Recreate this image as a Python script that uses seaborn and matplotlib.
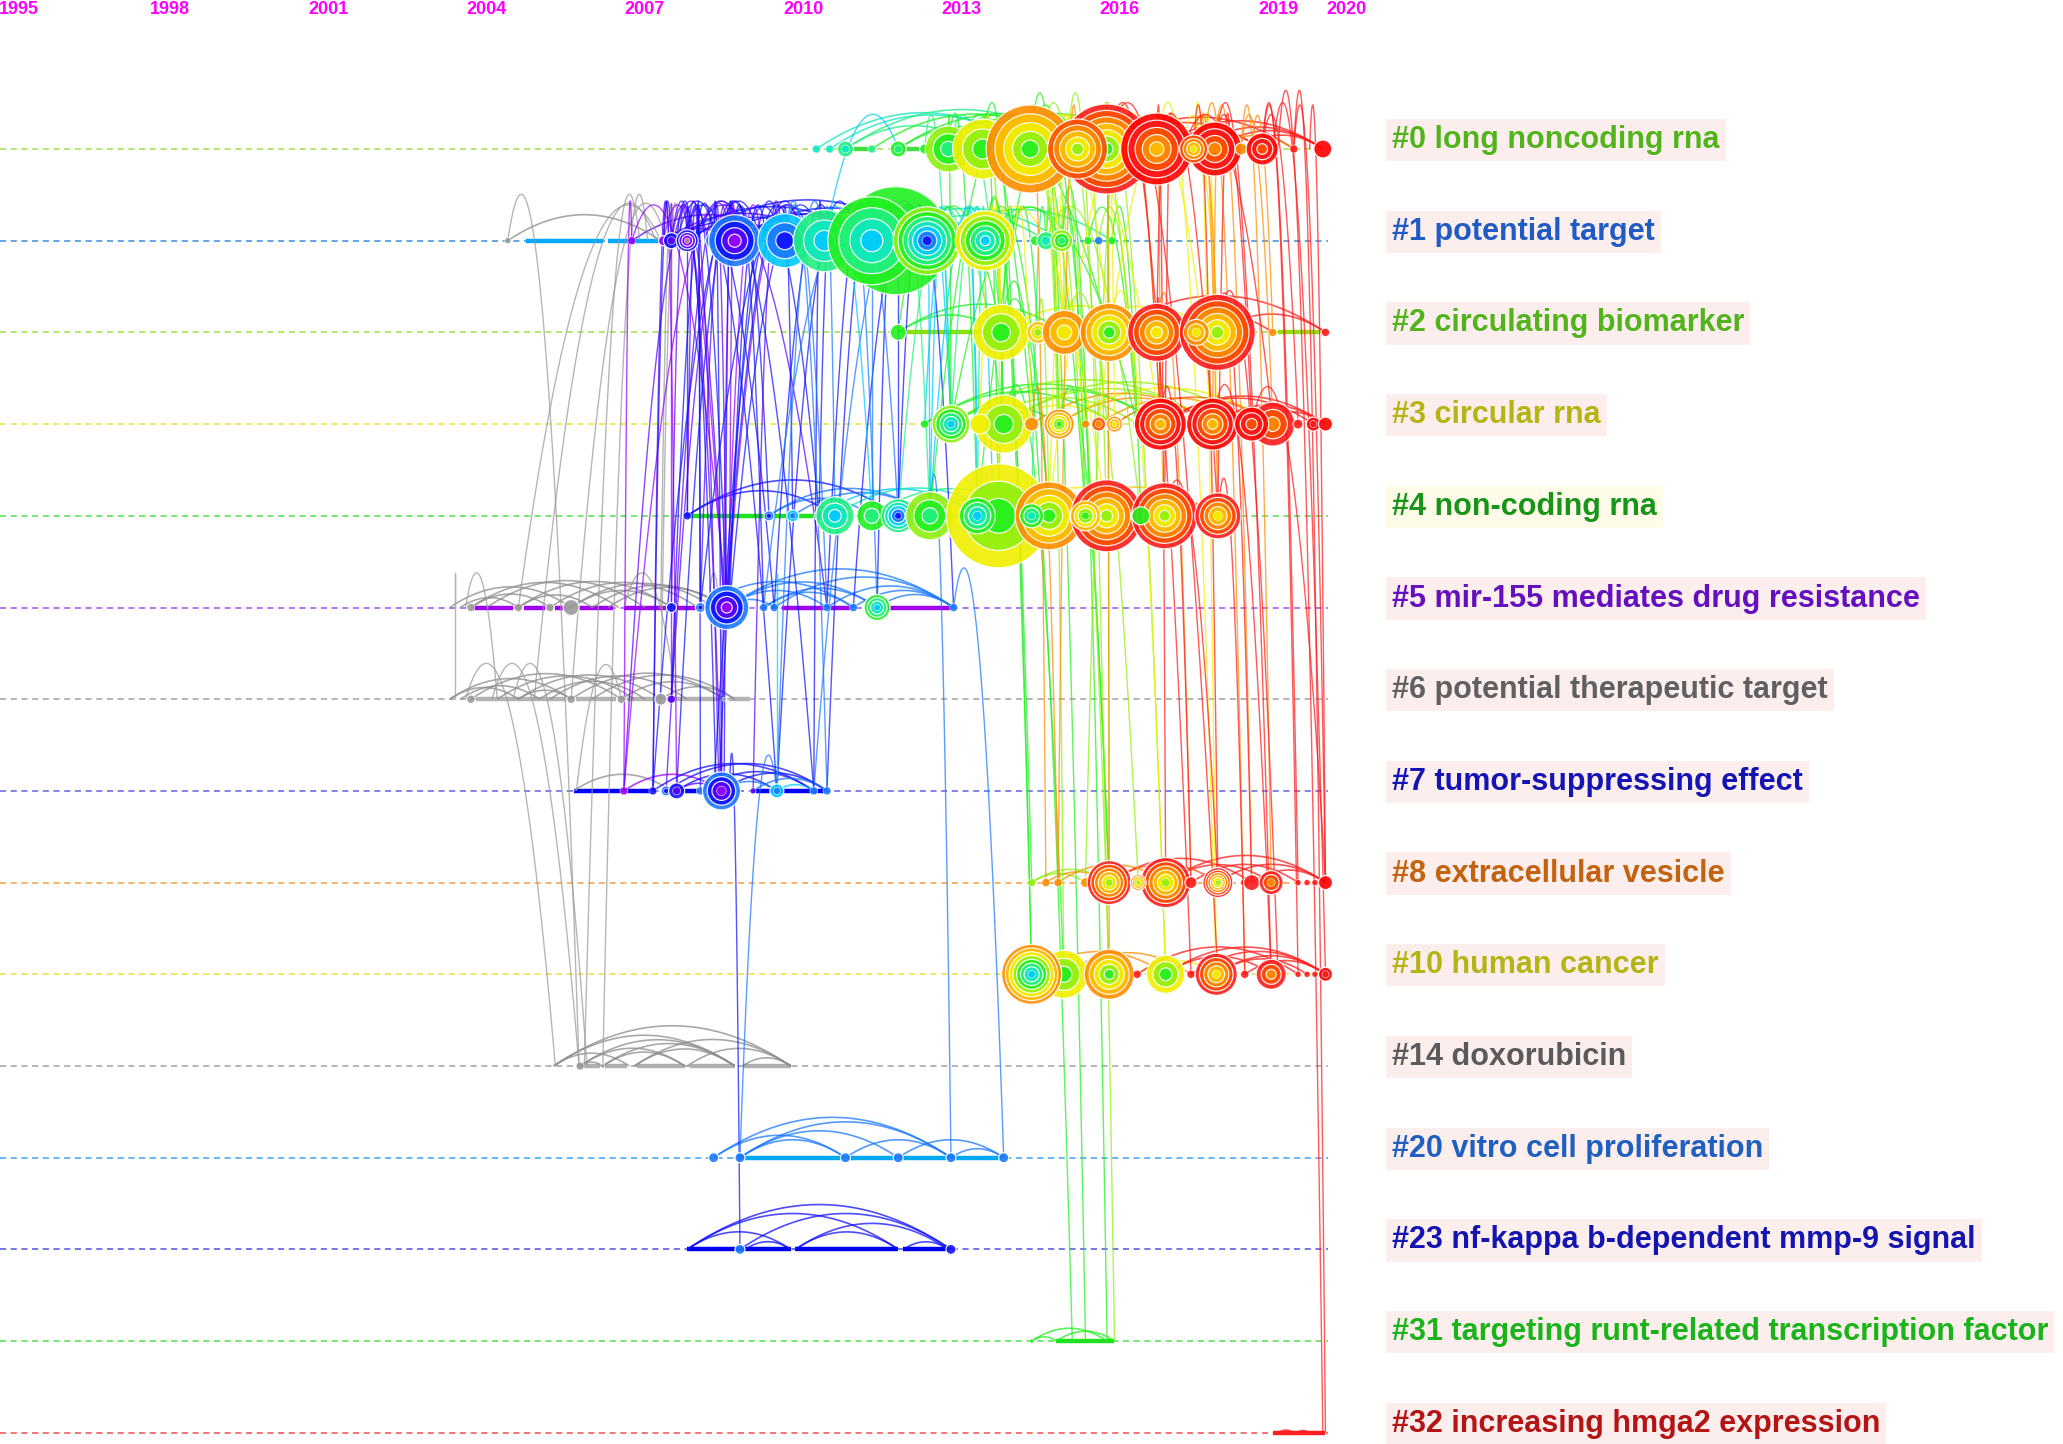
import numpy as np
import pandas as pd
import matplotlib
matplotlib.use("Agg")
import matplotlib.pyplot as plt
from matplotlib.collections import LineCollection
import seaborn as sns

# ---------------- data ----------------
cluster_labels = ["#0 long noncoding rna", "#1 potential target", "#2 circulating biomarker",
                  "#3 circular rna", "#4 non-coding rna", "#5 mir-155 mediates drug resistance",
                  "#6 potential therapeutic target", "#7 tumor-suppressing effect",
                  "#8 extracellular vesicle", "#10 human cancer", "#14 doxorubicin",
                  "#20 vitro cell proliferation", "#23 nf-kappa b-dependent mmp-9 signal",
                  "#31 targeting runt-related transcription factor", "#32 increasing hmga2 expression"]
axis_years = [1995, 1998, 2001, 2004, 2007, 2010, 2013, 2016, 2019, 2020]

# colour of each citation year (2005 = grey, outside coloured slices)
tone_years = list(range(2005, 2021))
tone_colors = ["#9a9a9a", "#9a00ff", "#5a00ff", "#1010ff", "#1a78ff", "#00c8ff", "#10e8c0",
               "#20f080", "#20f020", "#90f010", "#f0f000", "#ffc000", "#ff8c00", "#ff5000",
               "#ff1a1a", "#ff0000"]

# nodes per cluster: (year, radius px, first citing year, last citing year)
nodes_c0 = [(2010.25, 4, 2011, 2011), (2010.5, 4, 2011, 2011), (2010.8, 8, 2011, 2012),
            (2011.3, 4, 2012, 2012), (2011.8, 8, 2012, 2013), (2012.3, 5, 2013, 2013),
            (2012.75, 23, 2012, 2014), (2013.4, 30, 2013, 2015), (2014.3, 44, 2013, 2017),
            (2015.75, 45, 2013, 2019), (2015.2, 30, 2014, 2018), (2016.7, 36, 2016, 2020),
            (2017.8, 27, 2017, 2020), (2017.4, 14, 2015, 2018), (2018.3, 6, 2017, 2017),
            (2018.7, 16, 2018, 2020), (2019.3, 4, 2019, 2019), (2019.85, 9, 2020, 2020)]
nodes_c1 = [(2004.4, 3, 2005, 2005), (2006.75, 4, 2006, 2006), (2007.35, 5, 2006, 2006),
            (2007.5, 8, 2007, 2008), (2007.8, 11, 2005, 2008), (2008.3, 8, 2008, 2009),
            (2008.7, 26, 2006, 2009), (2009.65, 27, 2008, 2010), (2010.4, 31, 2010, 2012),
            (2011.75, 54, 2012, 2013), (2011.3, 44, 2010, 2013), (2012.35, 34, 2008, 2014),
            (2013.45, 30, 2010, 2015), (2014.4, 5, 2013, 2013), (2014.6, 9, 2011, 2012),
            (2014.9, 11, 2012, 2014), (2015.4, 4, 2013, 2013), (2015.6, 4, 2009, 2009),
            (2015.85, 4, 2013, 2013)]
nodes_c2 = [(2011.8, 8, 2013, 2013), (2013.75, 28, 2013, 2015), (2014.45, 11, 2014, 2016),
            (2014.95, 22, 2015, 2017), (2015.8, 29, 2013, 2017), (2016.7, 29, 2015, 2019),
            (2017.85, 38, 2014, 2019), (2017.45, 13, 2015, 2017), (2018.9, 4, 2017, 2017),
            (2019.9, 4, 2019, 2019)]
nodes_c3 = [(2012.3, 4, 2013, 2013), (2012.8, 19, 2010, 2014), (2013.8, 29, 2013, 2015),
            (2013.35, 10, 2015, 2015), (2014.33, 7, 2017, 2017), (2014.85, 15, 2013, 2017),
            (2015.35, 4, 2017, 2017), (2015.6, 7, 2017, 2018), (2015.9, 8, 2015, 2017),
            (2016.33, 5, 2014, 2014), (2016.77, 26, 2016, 2020), (2017.76, 26, 2016, 2020),
            (2018.9, 22, 2017, 2019), (2018.5, 17, 2018, 2020), (2019.38, 5, 2019, 2019),
            (2019.67, 7, 2019, 2020), (2019.9, 7, 2020, 2020)]
nodes_c4 = [(2007.8, 4, 2008, 2008), (2009.35, 5, 2008, 2009), (2009.8, 6, 2009, 2010),
            (2010.3, 5, 2009, 2009), (2010.6, 19, 2010, 2012), (2011.3, 15, 2012, 2013),
            (2011.8, 17, 2008, 2012), (2012.4, 24, 2012, 2014), (2013.7, 52, 2013, 2015),
            (2013.3, 18, 2010, 2013), (2014.66, 34, 2013, 2017), (2014.33, 12, 2011, 2013),
            (2015.75, 36, 2014, 2019), (2015.35, 15, 2013, 2016), (2016.85, 33, 2014, 2019),
            (2016.4, 9, 2013, 2013), (2017.86, 23, 2015, 2019)]
nodes_c5 = [(2003.7, 4, 2005, 2005), (2004.6, 4, 2005, 2005), (2005.2, 4, 2005, 2005),
            (2005.6, 8, 2005, 2005), (2007.5, 5, 2008, 2008), (2008.05, 5, 2008, 2009),
            (2008.55, 22, 2006, 2009), (2009.25, 4, 2009, 2009), (2009.45, 4, 2009, 2009),
            (2010.45, 4, 2009, 2009), (2010.95, 4, 2009, 2009), (2011.4, 13, 2010, 2013),
            (2012.85, 4, 2009, 2009)]
nodes_c6 = [(2003.7, 4, 2005, 2005), (2005.6, 4, 2005, 2005), (2006.55, 4, 2005, 2005),
            (2007.3, 6, 2005, 2005), (2007.5, 4, 2007, 2007), (2008.5, 2, 2005, 2005)]
nodes_c7 = [(2006.6, 4, 2006, 2006), (2007.15, 4, 2008, 2008), (2007.4, 5, 2008, 2009),
            (2007.6, 8, 2007, 2008), (2008.05, 4, 2009, 2009), (2008.45, 19, 2006, 2009),
            (2009.05, 3, 2007, 2007), (2009.5, 7, 2009, 2010), (2010.2, 4, 2009, 2009),
            (2010.45, 4, 2009, 2009)]
nodes_c8 = [(2014.33, 4, 2014, 2014), (2014.6, 4, 2017, 2017), (2014.83, 4, 2017, 2017),
            (2015.35, 5, 2017, 2017), (2015.8, 22, 2014, 2019), (2016.87, 25, 2014, 2019),
            (2016.35, 8, 2014, 2017), (2017.35, 6, 2019, 2019), (2017.86, 15, 2014, 2019),
            (2018.37, 4, 2019, 2019), (2018.5, 8, 2019, 2019), (2018.87, 12, 2017, 2019),
            (2019.38, 3, 2019, 2019), (2019.55, 3, 2019, 2019), (2019.7, 3, 2019, 2019),
            (2019.9, 7, 2020, 2020)]
nodes_c10 = [(2014.94, 24, 2013, 2015), (2014.33, 30, 2010, 2017), (2015.8, 25, 2013, 2017),
             (2016.33, 4, 2019, 2019), (2016.87, 19, 2013, 2015), (2017.35, 4, 2019, 2019),
             (2017.83, 21, 2015, 2019), (2018.37, 4, 2019, 2019), (2018.87, 15, 2017, 2019),
             (2019.38, 3, 2019, 2019), (2019.55, 3, 2019, 2019), (2019.7, 3, 2019, 2019),
             (2019.9, 7, 2019, 2020)]
nodes_c14 = [(2005.77, 4, 2005, 2005), (2006.2, 2, 2005, 2005)]
nodes_c20 = [(2008.3, 5, 2009, 2009), (2008.8, 5, 2009, 2009), (2010.8, 5, 2009, 2009),
             (2011.8, 5, 2009, 2009), (2012.8, 5, 2009, 2009), (2013.8, 5, 2009, 2009)]
nodes_c23 = [(2008.8, 5, 2009, 2009), (2012.8, 5, 2008, 2008)]
nodes_c31 = [(2014.33, 2, 2013, 2013)]
nodes_c32 = []

# arcs inside a cluster: (from year, to year, citing year)
arcs_c0 = [(2010.25, 2014.3, 2011), (2010.5, 2014.3, 2011), (2010.8, 2015.2, 2012),
           (2010.8, 2013.4, 2012), (2011.3, 2015.2, 2013), (2011.8, 2014.3, 2013),
           (2011.8, 2015.75, 2013), (2012.3, 2015.75, 2013), (2012.3, 2014.3, 2013),
           (2012.75, 2016.7, 2013), (2013.4, 2015.75, 2015), (2013.4, 2016.7, 2015),
           (2014.3, 2016.7, 2016), (2015.75, 2019.3, 2019), (2016.7, 2019.85, 2019),
           (2016.7, 2018.7, 2019), (2017.4, 2019.85, 2019), (2017.8, 2019.85, 2019),
           (2015.75, 2018.7, 2019), (2017.8, 2019.3, 2017), (2018.3, 2019.85, 2019),
           (2016.7, 2017.8, 2018)]
arcs_c1 = [(2004.4, 2007.3, 2005), (2006.75, 2009.65, 2007), (2007.35, 2010.4, 2007),
           (2007.5, 2011.3, 2008), (2007.5, 2009.65, 2008), (2007.8, 2012.35, 2008),
           (2007.8, 2010.4, 2008), (2008.3, 2011.3, 2008), (2008.7, 2012.35, 2008),
           (2008.7, 2010.4, 2009), (2007.35, 2008.7, 2007), (2009.65, 2013.45, 2009),
           (2009.65, 2011.75, 2009), (2010.4, 2013.45, 2010), (2011.3, 2014.9, 2011),
           (2012.35, 2015.85, 2012), (2011.75, 2014.6, 2012), (2008.7, 2011.75, 2008)]
arcs_c2 = [(2011.8, 2013.75, 2013), (2011.8, 2014.95, 2013), (2013.75, 2016.7, 2015),
           (2014.95, 2017.85, 2015), (2015.8, 2017.85, 2016), (2016.7, 2018.9, 2019),
           (2017.85, 2019.9, 2019), (2015.8, 2019.9, 2019)]
arcs_c3 = [(2012.3, 2016.77, 2013), (2012.8, 2016.77, 2013), (2012.8, 2017.76, 2014),
           (2013.8, 2017.76, 2014), (2013.8, 2018.5, 2014), (2012.3, 2015.9, 2013),
           (2013.35, 2016.33, 2014), (2014.85, 2018.9, 2015), (2014.33, 2017.76, 2017),
           (2014.85, 2017.76, 2017), (2015.6, 2018.5, 2017), (2015.9, 2018.9, 2018),
           (2016.77, 2019.67, 2019), (2016.77, 2018.5, 2019), (2017.76, 2019.9, 2019),
           (2018.5, 2019.9, 2019), (2012.8, 2014.85, 2013), (2013.8, 2015.9, 2015),
           (2016.77, 2019.9, 2019), (2017.76, 2019.38, 2018)]
arcs_c4 = [(2007.8, 2011.8, 2008), (2007.8, 2010.6, 2008), (2009.35, 2012.4, 2009),
           (2009.8, 2012.4, 2009), (2010.3, 2013.3, 2010), (2009.35, 2011.3, 2009),
           (2010.6, 2013.7, 2011), (2011.3, 2014.33, 2012), (2011.8, 2013.7, 2012),
           (2012.4, 2014.66, 2013), (2013.7, 2016.85, 2015), (2014.66, 2016.85, 2017),
           (2014.66, 2017.86, 2016), (2015.75, 2017.86, 2018)]
arcs_c5 = [(2003.3, 2005.6, 2005), (2003.7, 2006.5, 2005), (2004.0, 2007.0, 2005),
           (2004.6, 2007.5, 2005), (2005.2, 2008.0, 2005), (2005.6, 2008.3, 2005),
           (2006.0, 2008.5, 2005), (2003.7, 2005.2, 2005), (2004.6, 2006.0, 2005),
           (2005.6, 2007.5, 2005), (2003.5, 2004.6, 2005), (2006.3, 2008.55, 2005),
           (2008.55, 2011.4, 2009), (2008.55, 2012.85, 2009), (2009.25, 2011.4, 2009),
           (2009.45, 2012.85, 2009), (2010.45, 2012.85, 2009), (2010.95, 2012.85, 2009),
           (2008.55, 2010.45, 2009), (2009.25, 2010.95, 2009), (2011.4, 2012.85, 2009),
           (2008.05, 2010.95, 2009), (2008.55, 2009.45, 2009)]
arcs_c6 = [(2003.3, 2005.6, 2005), (2003.7, 2006.55, 2005), (2004.2, 2006.8, 2005),
           (2004.6, 2007.3, 2005), (2005.2, 2007.8, 2005), (2005.6, 2008.5, 2005),
           (2006.0, 2008.7, 2005), (2006.55, 2008.5, 2005), (2003.3, 2004.6, 2005),
           (2004.6, 2005.6, 2005), (2007.3, 2008.7, 2005), (2003.5, 2005.0, 2005),
           (2005.0, 2007.0, 2005)]
arcs_c7 = [(2005.65, 2007.5, 2005), (2006.6, 2008.45, 2006), (2007.15, 2010.2, 2008),
           (2007.4, 2010.45, 2008), (2007.6, 2009.5, 2008), (2008.45, 2010.45, 2008),
           (2008.05, 2010.2, 2008), (2008.45, 2009.5, 2009), (2009.05, 2010.45, 2009),
           (2009.5, 2010.2, 2010), (2007.6, 2008.45, 2007)]
arcs_c8 = [(2014.33, 2015.35, 2014), (2014.6, 2015.8, 2017), (2014.83, 2016.87, 2017),
           (2015.8, 2018.5, 2019), (2016.87, 2019.9, 2019), (2016.87, 2018.87, 2019),
           (2017.86, 2019.9, 2019), (2017.35, 2019.38, 2019), (2018.5, 2019.9, 2019),
           (2015.8, 2017.86, 2018), (2014.33, 2015.8, 2014)]
arcs_c10 = [(2014.94, 2017.35, 2017), (2014.33, 2016.87, 2017), (2016.33, 2017.83, 2015),
            (2016.87, 2019.9, 2019), (2017.35, 2019.9, 2019), (2017.83, 2019.9, 2019),
            (2016.33, 2019.38, 2019), (2018.37, 2019.9, 2019), (2016.87, 2018.87, 2019),
            (2017.83, 2019.55, 2019)]
arcs_c14 = [(2005.27, 2006.7, 2005), (2005.77, 2007.75, 2005), (2006.2, 2008.7, 2005),
            (2006.8, 2008.7, 2005), (2007.8, 2009.76, 2005), (2008.85, 2009.76, 2005),
            (2005.27, 2009.76, 2005), (2005.77, 2008.7, 2005), (2006.2, 2007.75, 2005),
            (2005.27, 2008.7, 2005), (2006.8, 2009.76, 2005), (2005.77, 2006.2, 2005)]
arcs_c20 = [(2008.3, 2010.8, 2009), (2008.8, 2011.8, 2009), (2008.3, 2012.8, 2009),
            (2008.8, 2012.8, 2009), (2010.8, 2012.8, 2009), (2011.8, 2013.8, 2009),
            (2012.8, 2013.8, 2009), (2008.8, 2010.8, 2009)]
arcs_c23 = [(2007.8, 2009.76, 2008), (2007.8, 2012.8, 2008), (2008.8, 2012.8, 2008),
            (2008.9, 2009.76, 2008), (2009.85, 2011.8, 2008), (2009.85, 2012.75, 2008),
            (2011.9, 2012.75, 2008), (2007.8, 2011.8, 2008)]
arcs_c31 = [(2014.33, 2015.76, 2013), (2014.8, 2015.9, 2013), (2014.33, 2014.8, 2013)]
arcs_c32 = [(2019.0, 2019.3, 2019), (2019.35, 2019.6, 2019)]

# solid timeline stretches inside a cluster: (from year, to year)
seg_c0 = [(2010.9, 2011.25), (2011.9, 2012.2)]
seg_c1 = [(2004.75, 2006.2), (2006.3, 2007.3)]
seg_c2 = [(2011.9, 2013.6), (2019.0, 2019.8)]
seg_c3 = []
seg_c4 = [(2007.85, 2009.3), (2009.4, 2009.75), (2009.85, 2010.25)]
seg_c5 = [(2003.75, 2004.5), (2004.7, 2005.1), (2005.3, 2005.5), (2005.75, 2006.4),
          (2006.6, 2007.4), (2007.6, 2008.0), (2009.6, 2010.4), (2010.5, 2010.9),
          (2011.6, 2012.8)]
seg_c6 = [(2003.8, 2005.5), (2005.7, 2006.45), (2006.65, 2007.2), (2007.4, 2008.4),
          (2008.6, 2009.0)]
seg_c7 = [(2005.65, 2006.55), (2006.65, 2007.1), (2007.7, 2008.0), (2009.1, 2009.45),
          (2009.55, 2010.4)]
seg_c8 = []
seg_c10 = []
seg_c14 = [(2005.85, 2006.15), (2006.25, 2006.65), (2006.85, 2007.75), (2007.85, 2008.7),
           (2008.85, 2009.76)]
seg_c20 = [(2008.85, 2010.75), (2010.85, 2011.75), (2011.85, 2012.75), (2012.85, 2013.75)]
seg_c23 = [(2007.8, 2009.76), (2009.85, 2011.8), (2011.9, 2012.75)]
seg_c31 = [(2014.8, 2015.9)]
seg_c32 = [(2018.9, 2019.9)]

# links between clusters: (lane a, year a, lane b, year b), grouped by citing year
links_gray = [(1, 2004.4, 10, 2005.75), (1, 2006.9, 10, 2005.85), (1, 2007.05, 10, 2006.2),
              (1, 2007.2, 6, 2004.9), (1, 2007.3, 5, 2004.6), (1, 2007.4, 6, 2005.6),
              (1, 2007.55, 5, 2007.3), (1, 2007.65, 6, 2007.3), (5, 2003.4, 6, 2003.4),
              (5, 2003.6, 6, 2004.2), (6, 2003.6, 10, 2005.3), (6, 2004.1, 10, 2005.75),
              (6, 2004.5, 10, 2005.9), (6, 2006.55, 7, 2005.7), (5, 2006.6, 6, 2007.6),
              (5, 2008.2, 6, 2008.5)]
links_purple = [(1, 2006.75, 5, 2008.55), (1, 2006.75, 7, 2006.6), (1, 2007.35, 7, 2007.6),
                (1, 2007.35, 5, 2008.5), (1, 2008.7, 7, 2008.45), (1, 2008.7, 5, 2008.6),
                (1, 2007.5, 6, 2007.5), (1, 2009.2, 5, 2008.55), (1, 2010.0, 5, 2008.55),
                (1, 2008.9, 7, 2006.6)]
links_violet = [(1, 2007.5, 5, 2008.5), (1, 2007.8, 7, 2008.4), (1, 2008.3, 5, 2008.55),
                (1, 2008.65, 5, 2008.05), (1, 2007.8, 5, 2007.5), (1, 2009.6, 7, 2009.05),
                (1, 2008.65, 6, 2007.5), (1, 2007.45, 7, 2007.15), (1, 2008.0, 4, 2007.8),
                (1, 2009.0, 7, 2007.4), (1, 2007.5, 7, 2008.45), (1, 2008.2, 7, 2006.6),
                (1, 2007.9, 5, 2010.45)]
links_blue = [(1, 2007.5, 7, 2007.15), (1, 2007.6, 7, 2008.35), (1, 2007.8, 4, 2007.8),
              (1, 2007.8, 5, 2008.55), (1, 2008.0, 7, 2008.05), (1, 2008.3, 7, 2008.45),
              (1, 2008.65, 4, 2009.35), (1, 2008.65, 7, 2008.5), (1, 2008.65, 5, 2009.25),
              (1, 2009.0, 7, 2007.6), (1, 2009.3, 5, 2008.6), (1, 2009.6, 7, 2008.4),
              (1, 2009.6, 4, 2009.8), (1, 2009.8, 5, 2008.5), (1, 2010.0, 7, 2008.3),
              (1, 2010.35, 5, 2008.6), (1, 2010.35, 7, 2010.2), (1, 2010.6, 4, 2010.3),
              (1, 2010.6, 5, 2009.45), (1, 2011.0, 7, 2009.5), (1, 2011.3, 5, 2010.45),
              (1, 2011.8, 4, 2011.8), (1, 2011.8, 5, 2011.4), (1, 2012.3, 5, 2010.95),
              (1, 2012.35, 4, 2011.8), (7, 2008.6, 12, 2008.8), (1, 2008.3, 6, 2007.5),
              (1, 2011.5, 7, 2010.45), (1, 2012.0, 5, 2012.85), (1, 2008.0, 5, 2008.05),
              (1, 2007.6, 7, 2009.5), (1, 2008.0, 7, 2010.2), (1, 2009.2, 7, 2007.15),
              (1, 2007.7, 5, 2009.45), (1, 2010.2, 5, 2008.05), (1, 2008.9, 4, 2010.3)]
links_azure = [(1, 2009.65, 5, 2010.45), (1, 2009.65, 7, 2010.45), (1, 2010.4, 4, 2010.6),
               (1, 2010.4, 7, 2009.5), (1, 2011.3, 4, 2011.3), (1, 2010.8, 5, 2011.4),
               (5, 2012.85, 11, 2013.8), (4, 2012.4, 11, 2012.8), (7, 2009.5, 11, 2008.8),
               (1, 2012.35, 7, 2010.2), (1, 2010.9, 4, 2011.8), (1, 2011.5, 5, 2009.25)]
links_cyan = [(1, 2012.35, 4, 2012.4), (1, 2012.5, 3, 2012.8), (1, 2012.7, 4, 2012.4),
              (1, 2012.9, 3, 2012.3), (1, 2013.1, 4, 2013.3), (1, 2012.3, 3, 2012.8),
              (1, 2013.4, 4, 2012.4), (0, 2011.8, 1, 2010.4), (1, 2010.4, 4, 2011.3),
              (1, 2013.0, 3, 2013.3), (1, 2013.2, 4, 2013.6), (7, 2009.5, 5, 2009.5)]
links_spring = [(1, 2013.45, 4, 2013.3), (1, 2013.45, 3, 2012.8), (0, 2012.75, 2, 2013.75),
                (1, 2012.35, 3, 2013.8), (1, 2014.6, 4, 2014.33), (1, 2011.8, 4, 2012.4),
                (0, 2012.3, 3, 2012.8), (1, 2013.0, 4, 2011.8)]
links_green = [(0, 2012.75, 3, 2012.8), (0, 2012.75, 4, 2013.3), (0, 2013.4, 3, 2013.8),
               (0, 2013.4, 4, 2013.7), (1, 2012.35, 2, 2013.75), (1, 2013.45, 3, 2013.8),
               (1, 2013.45, 4, 2014.66), (1, 2014.0, 2, 2014.45), (1, 2014.6, 3, 2014.85),
               (1, 2014.9, 4, 2015.35), (0, 2013.4, 9, 2014.33), (1, 2013.45, 9, 2014.33),
               (0, 2014.3, 13, 2015.35), (1, 2014.9, 13, 2015.76), (2, 2013.75, 13, 2015.1),
               (3, 2014.85, 8, 2015.8), (0, 2014.3, 8, 2015.8), (3, 2013.8, 9, 2014.94),
               (2, 2013.75, 4, 2014.66), (1, 2013.45, 8, 2014.33), (1, 2014.0, 4, 2013.7),
               (0, 2013.0, 3, 2014.33), (1, 2012.8, 2, 2011.8), (0, 2014.0, 4, 2015.35),
               (1, 2015.4, 3, 2016.33), (1, 2015.85, 4, 2016.4), (0, 2014.3, 4, 2012.4),
               (1, 2013.45, 3, 2016.33), (0, 2012.75, 2, 2015.8), (1, 2014.9, 3, 2012.8),
               (0, 2015.2, 4, 2013.3)]
links_lime = [(0, 2014.3, 3, 2014.85), (0, 2014.3, 4, 2015.35), (0, 2015.2, 3, 2016.33),
              (0, 2015.2, 4, 2015.75), (0, 2015.75, 2, 2015.8), (0, 2015.75, 8, 2015.8),
              (0, 2014.5, 9, 2015.8), (1, 2014.6, 4, 2016.4), (2, 2014.95, 8, 2016.35),
              (1, 2015.6, 3, 2016.33), (0, 2013.8, 2, 2014.95), (0, 2015.0, 13, 2015.9),
              (0, 2015.5, 9, 2016.87), (2, 2014.45, 4, 2014.66), (0, 2014.8, 3, 2015.6),
              (1, 2014.9, 2, 2014.95), (0, 2016.2, 8, 2015.35), (1, 2014.6, 9, 2014.94)]
links_yellow = [(0, 2013.4, 2, 2013.75), (0, 2013.6, 3, 2015.35), (0, 2014.3, 2, 2014.95),
                (0, 2015.2, 4, 2014.66), (0, 2015.75, 3, 2015.9), (1, 2013.45, 2, 2013.75),
                (1, 2013.8, 4, 2013.7), (0, 2016.7, 9, 2017.83), (0, 2017.4, 9, 2017.83),
                (2, 2015.8, 9, 2016.87), (0, 2016.0, 4, 2016.85), (0, 2017.6, 4, 2017.86),
                (1, 2014.0, 3, 2014.33), (0, 2014.6, 2, 2015.8), (0, 2016.2, 3, 2017.76),
                (1, 2013.7, 3, 2013.35), (2, 2014.95, 3, 2014.85), (0, 2017.2, 2, 2017.85),
                (0, 2016.7, 4, 2014.66), (0, 2014.3, 3, 2016.77), (1, 2013.45, 4, 2015.75),
                (0, 2017.4, 3, 2015.6)]
links_orange = [(0, 2014.3, 8, 2014.6), (0, 2015.2, 8, 2014.83), (0, 2016.7, 3, 2016.77),
                (0, 2017.4, 2, 2017.85), (0, 2017.8, 8, 2018.5), (0, 2018.3, 8, 2018.87),
                (0, 2018.3, 3, 2018.9), (0, 2017.6, 9, 2018.37), (0, 2015.75, 9, 2015.8),
                (2, 2016.7, 8, 2017.35), (0, 2018.5, 2, 2018.9), (0, 2017.5, 4, 2017.86),
                (0, 2017.9, 3, 2017.76), (3, 2014.33, 8, 2014.83)]
links_red = [(0, 2015.75, 9, 2017.86), (0, 2016.7, 4, 2017.86), (0, 2016.7, 8, 2016.87),
             (0, 2017.4, 8, 2017.86), (0, 2017.8, 3, 2018.5), (0, 2017.8, 9, 2018.87),
             (0, 2018.7, 8, 2019.38), (0, 2018.7, 3, 2019.38), (0, 2018.7, 9, 2019.38),
             (0, 2019.3, 14, 2019.9), (0, 2019.3, 8, 2019.9), (2, 2017.85, 8, 2018.5),
             (2, 2017.85, 9, 2019.0), (3, 2016.77, 8, 2017.35), (3, 2017.76, 9, 2018.87),
             (3, 2018.5, 8, 2019.9), (2, 2016.7, 3, 2016.77), (0, 2017.0, 4, 2016.85),
             (0, 2016.0, 3, 2016.77), (0, 2015.75, 9, 2017.35), (4, 2016.85, 8, 2017.86),
             (4, 2017.86, 9, 2018.37), (0, 2019.0, 14, 2019.85), (0, 2016.9, 2, 2016.7),
             (0, 2018.1, 4, 2017.86), (0, 2019.6, 8, 2019.9), (0, 2017.2, 3, 2018.9),
             (0, 2018.9, 9, 2019.9)]

# ---------------- styles ----------------
label_colors = ["#52b41c", "#1f5bc4", "#52b41c", "#b4b414", "#17951b", "#6410c0", "#606060",
                "#1414b4", "#c3620f", "#b4b414", "#5a5a5a", "#1f5fc0", "#1414b0", "#19b419",
                "#b41414"]
label_boxes = ["#fdeeee"] * 4 + ["#fefbe8"] + ["#fdeeee"] * 10
lane_colors = ["#a0e04a", "#3c8cdc", "#a0e04a", "#e8e040", "#50e050", "#a050f0", "#a0a0a0",
               "#6060e0", "#f0a040", "#e8e040", "#a0a0a0", "#40a0f0", "#5050e0", "#50e050",
               "#f05050"]
seg_colors = ["#40e040", "#00aaff", "#90e010", "#e8e040", "#20e020", "#a000f0", "#b4b4b4",
              "#0000ff", "#f0a040", "#e8e040", "#b0b0b0", "#00a8f0", "#0000f0", "#20e020",
              "#ff2020"]

W, H = 2063, 1444
PX_PER_YEAR = 52.75
X0_PX = 12          # pixel of 1995
LANE0_PX = 149      # pixel of first lane
LANE_PX = 91.7      # lane spacing
END_YEAR = 2019.95

lane_nodes = [nodes_c0, nodes_c1, nodes_c2, nodes_c3, nodes_c4, nodes_c5, nodes_c6, nodes_c7,
              nodes_c8, nodes_c10, nodes_c14, nodes_c20, nodes_c23, nodes_c31, nodes_c32]
lane_arcs = [arcs_c0, arcs_c1, arcs_c2, arcs_c3, arcs_c4, arcs_c5, arcs_c6, arcs_c7,
             arcs_c8, arcs_c10, arcs_c14, arcs_c20, arcs_c23, arcs_c31, arcs_c32]
lane_segs = [seg_c0, seg_c1, seg_c2, seg_c3, seg_c4, seg_c5, seg_c6, seg_c7,
             seg_c8, seg_c10, seg_c14, seg_c20, seg_c23, seg_c31, seg_c32]
link_groups = [(links_gray, 2005), (links_purple, 2006), (links_violet, 2007),
               (links_blue, 2008), (links_azure, 2009), (links_cyan, 2010),
               (links_spring, 2012), (links_green, 2013), (links_lime, 2014),
               (links_yellow, 2015), (links_orange, 2017), (links_red, 2019)]


def tone_color(t):
    return tone_colors[tone_years.index(int(t))]


def x_of_px(px):
    return 1995 + (px - X0_PX) / PX_PER_YEAR


def y_of_px(px):
    return (px - LANE0_PX) / LANE_PX


def arc_points(x1, x2, lane):
    t = np.linspace(0, 1, 40)
    h = 0.17 * abs(x2 - x1) * PX_PER_YEAR / LANE_PX
    return np.column_stack([x1 + (x2 - x1) * t, lane - 4 * h * t * (1 - t)])


def link_points(la, xa, lb, xb):
    # quadratic curve: rises above the upper node, then runs down to the lower one
    if la > lb:
        la, xa, lb, xb = lb, xb, la, xa
    h = 0.9 + 0.2 * (lb - la)
    t = np.linspace(0, 1, 80)[:, None]
    p0 = np.array([xa, la])
    p1 = np.array([(xa + xb) / 2, la - h])
    p2 = np.array([xb, lb])
    return (1 - t) ** 2 * p0 + 2 * (1 - t) * t * p1 + t ** 2 * p2


plt.rcParams['font.family'] = ['Liberation Sans', 'DejaVu Sans']
fig = plt.figure(figsize=(W / 100, H / 100), dpi=100)
ax = fig.add_axes([0, 0, 1, 1])
ax.set_xlim(x_of_px(0), x_of_px(W))
ax.set_ylim(y_of_px(H), y_of_px(0))
ax.axis("off")

# lane dashed lines and solid stretches
for k in range(len(cluster_labels)):
    ax.plot([x_of_px(0), END_YEAR], [k, k], color=lane_colors[k], lw=1.1,
            ls=(0, (4, 3)), zorder=1)
    for a, b in lane_segs[k]:
        ax.plot([a, b], [k, k], color=seg_colors[k], lw=3.2, solid_capstyle="butt", zorder=1.5)

# arcs inside lanes
arc_lines, arc_cols = [], []
for k, arcs in enumerate(lane_arcs):
    for a, b, tone in arcs:
        arc_lines.append(arc_points(a, b, k))
        arc_cols.append(tone_color(tone) if tone > 2005 else "#8c8c8c")
ax.add_collection(LineCollection(arc_lines, colors=arc_cols, linewidths=1.2, alpha=0.75, zorder=2))

# links between lanes
link_lines, link_cols = [], []
for group, tone in link_groups:
    for la, xa, lb, xb in group:
        link_lines.append(link_points(la, xa, lb, xb))
        link_cols.append(tone_color(tone))
ax.add_collection(LineCollection(link_lines, colors=link_cols, linewidths=1.0, alpha=0.72, zorder=2.2))

# nodes as tree rings
rows = []
for k, nodes in enumerate(lane_nodes):
    for yr, r, t_in, t_out in nodes:
        tones = list(range(t_in, t_out + 1))
        n = len(tones)
        for i in range(n - 1, -1, -1):
            rad = r * (i + 1) / n
            rows.append({"x": yr, "y": k, "s": (2 * rad * 0.72) ** 2,
                         "color": tone_color(tones[i]),
                         "lw": 0.9 if rad >= 5 else 0.4})
df = pd.DataFrame(rows)
sns.scatterplot(data=df, x="x", y="y", hue="color",
                palette={c: c for c in df["color"].unique()},
                s=df["s"].values, linewidth=df["lw"].values, edgecolor="white",
                alpha=0.9, legend=False, ax=ax, zorder=3)

# year labels on top (first one kept inside the picture)
for yr in axis_years:
    xpos = max(yr + (0.3 if yr == 2020 else 0), x_of_px(19))
    ax.text(xpos, y_of_px(9), str(yr), color="#ff00ff",
            fontsize=13, fontweight="bold", ha="center", va="center",
            family=["Liberation Sans Narrow", "Liberation Sans"], zorder=5)

# cluster labels
for k, lab in enumerate(cluster_labels):
    ax.text(x_of_px(1392), k - 9 / LANE_PX, lab, color=label_colors[k], fontsize=22,
            fontweight="bold", ha="left", va="center", zorder=5,
            bbox=dict(boxstyle="square,pad=0.2", fc=label_boxes[k], ec="none"))

ax.set_xlabel("")
ax.set_ylabel("")
fig.savefig("out.png", dpi=100)
